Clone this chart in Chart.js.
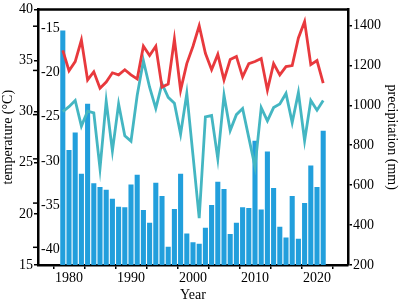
<!DOCTYPE html>
<html><head><meta charset="utf-8">
<script src="https://cdn.jsdelivr.net/npm/chart.js@4"></script>
<style>html,body{margin:0;padding:0;background:#fff;} canvas{display:block;}</style>
</head><body>
<canvas id="c" width="400" height="304"></canvas>
<script>
const years = [1979,1980,1981,1982,1983,1984,1985,1986,1987,1988,1989,1990,1991,1992,1993,1994,1995,1996,1997,1998,1999,2000,2001,2002,2003,2004,2005,2006,2007,2008,2009,2010,2011,2012,2013,2014,2015,2016,2017,2018,2019,2020,2021];
const precipitation = [1374,776,864,657,1008,610,590,577,532,492,489,603,652,476,411,612,546,292,481,657,358,314,307,387,501,617,581,355,411,489,485,822,478,768,585,391,338,546,332,510,698,590,872];
const tempUpper = [36.0,34.0,34.9,37.0,33.1,33.9,32.3,32.9,33.8,33.6,34.1,33.6,33.2,36.4,35.5,36.4,32.4,32.7,37.1,32.1,34.7,36.4,38.4,35.7,34.1,35.6,33.1,35.1,35.4,33.4,34.7,34.9,35.2,32.1,34.7,33.6,34.4,34.5,37.2,38.8,34.6,35.0,32.8];
const tempLower = [-24.65,-24.1,-23.4,-26.3,-24.6,-24.8,-31.1,-23.45,-29.1,-23.8,-27.4,-28.0,-22.8,-18.9,-21.9,-24.3,-21.5,-23.05,-23.7,-27.2,-22.6,-29.6,-36.7,-25.25,-25.1,-30.0,-22.8,-26.8,-25.0,-24.3,-27.6,-30.9,-24.2,-25.7,-24.2,-23.8,-22.6,-25.9,-22.5,-27.95,-23.4,-24.5,-23.4];
const leftTicks = [15,20,25,30,35,40];
const innerTicks = [-15,-20,-25,-30,-35,-40];
const rightTicks = [200,400,600,800,1000,1200,1400];
const xTicks = [1980,1985,1990,1995,2000,2005,2010,2015,2020];
const xLabels = [1980,1990,2000,2010,2020];

const FONT = {family:'"Liberation Serif","Times New Roman",serif', size:14};

const framePlugin = {
  id:'frame',
  afterDraw(chart){
    const {ctx, chartArea:a} = chart;
    const s = chart.scales.yIn;
    ctx.save();
    ctx.strokeStyle='#000';
    ctx.lineWidth=2.5;
    ctx.beginPath(); ctx.moveTo(a.left-1, a.top); ctx.lineTo(a.right+1, a.top); ctx.stroke();
    ctx.lineWidth=1.5;
    ctx.font = '14px "Liberation Serif","Times New Roman",serif';
    ctx.fillStyle='#000'; ctx.textAlign='left'; ctx.textBaseline='middle';
    innerTicks.forEach(v=>{
      const y = s.getPixelForValue(v);
      ctx.beginPath(); ctx.moveTo(a.left-5, y); ctx.lineTo(a.left, y); ctx.stroke();
      ctx.fillText(String(v), a.left+3, y+2);
    });
    ctx.restore();
  }
};

const pts = arr => years.map((y,i)=>({x:y, y:arr[i]}));

new Chart(document.getElementById('c'), {
  type:'bar',
  data:{
    datasets:[
      {type:'line', label:'upper', data:pts(tempUpper), yAxisID:'y', borderColor:'#e8393d', borderWidth:2.8, pointRadius:0, tension:0, order:1},
      {type:'line', label:'lower', data:pts(tempLower), yAxisID:'yIn', borderColor:'#44b6c2', borderWidth:2.8, pointRadius:0, tension:0, order:2},
      {type:'bar', label:'precipitation', data:pts(precipitation), yAxisID:'y2', backgroundColor:'#229fdc', barPercentage:1, categoryPercentage:0.82, order:3}
    ]
  },
  options:{
    responsive:false, animation:false, devicePixelRatio:1,
    layout:{padding:{top:8,left:0,right:0,bottom:0}},
    plugins:{legend:{display:false}, tooltip:{enabled:false}},
    scales:{
      x:{type:'linear', min:1975, max:2025, offset:false,
        afterBuildTicks:s=>{s.ticks = xTicks.map(v=>({value:v}));},
        ticks:{autoSkip:false, maxRotation:0, padding:1, font:FONT, color:'#000', callback:v=>xLabels.includes(v)?String(v):''},
        grid:{drawOnChartArea:false, tickLength:4, color:'#000', lineWidth:1.5},
        border:{color:'#000', width:2.5},
        title:{display:true, text:'Year', font:FONT, color:'#000', padding:0},
        afterFit:s=>{s.height=39;}
      },
      y:{type:'linear', position:'left', min:15, max:40,
        afterBuildTicks:s=>{s.ticks = leftTicks.map(v=>({value:v}));},
        ticks:{padding:1, font:FONT, color:'#000', callback:v=>String(v)},
        grid:{drawOnChartArea:false, tickLength:4, color:'#000', lineWidth:1.5},
        border:{color:'#000', width:2.5},
        title:{display:true, text:'temperature (°C)', font:FONT, color:'#000', padding:0},
        afterFit:s=>{s.width=38;}
      },
      yIn:{type:'linear', position:'left', display:false, min:-42, max:-13.1},
      y2:{type:'linear', position:'right', min:200, max:1480,
        afterBuildTicks:s=>{s.ticks = rightTicks.map(v=>({value:v}));},
        ticks:{padding:1, font:FONT, color:'#000', callback:v=>String(v)},
        grid:{drawOnChartArea:false, tickLength:4, color:'#000', lineWidth:1.5},
        border:{color:'#000', width:2.5},
        title:{display:true, text:'precipitation (mm)', font:FONT, color:'#000', padding:0},
        afterFit:s=>{s.width=52;}
      }
    }
  },
  plugins:[framePlugin]
});
</script>
</body></html>
